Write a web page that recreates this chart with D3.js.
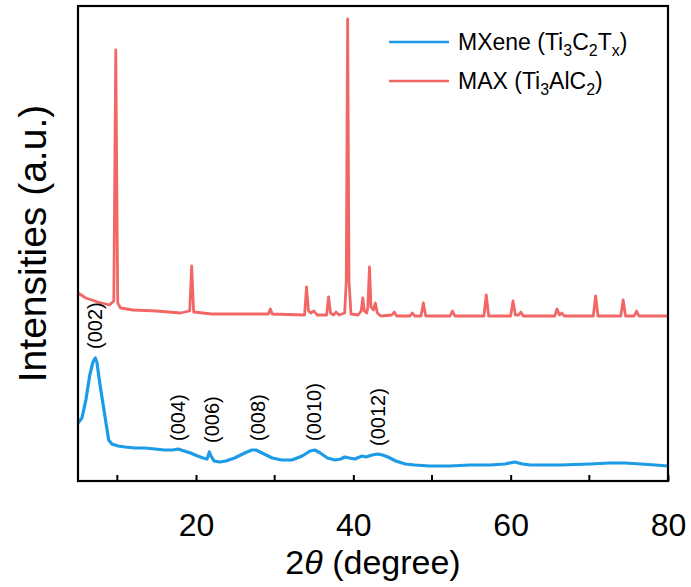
<!DOCTYPE html>
<html>
<head>
<meta charset="utf-8">
<script src="https://cdn.jsdelivr.net/npm/d3@7"></script>
<style>
  html, body { margin: 0; padding: 0; background: #fff; }
  svg { display: block; font-family: "Liberation Sans", Arial, sans-serif; }
</style>
</head>
<body>
<svg id="chart" width="691" height="587"></svg>
<script>
// XRD patterns: 2θ (degree) vs. intensity (a.u., offset for stacking)
const mxeneTheta = [5.0,5.5,6.0,6.5,6.9,7.2,7.4,7.8,8.2,8.6,8.9,9.3,10.1,11.0,12.2,13.5,14.8,16.0,17.0,17.7,18.5,19.3,20.2,20.9,21.4,21.7,21.9,22.3,23.0,23.8,24.9,26.2,27.1,27.6,28.4,29.7,30.9,32.2,33.5,34.5,35.1,35.8,36.7,37.7,38.4,38.9,39.5,40.2,41.1,41.6,42.4,43.1,43.7,44.4,45.4,46.6,47.8,49.7,52.3,54.8,57.4,59.3,60.5,61.5,62.5,66.3,70.1,72.6,74.5,76.5,78.4,80.0];
const mxeneIntensity = [58,63,81,106,119,123,119,96,76,56,41,37,35,34,33,33,32,31,31,32,30,28,25,23,22,29,25,20,19,20,23,28,31,31,28,23,21,21,25,30,31,28,23,21,22,24,23,22,25,24,26,27,26,24,20,17,16,15,15,16,16,17,19,17,16,16,17,18,18,17,16,15];

const maxTheta = [5.0,6.0,7.5,9.0,9.55,9.8,10.05,10.4,12.0,15.0,18.0,19.2,19.45,19.7,22.0,25.0,29.2,29.45,29.7,33.8,34.05,34.3,34.6,35.0,35.4,36.6,36.85,37.1,37.5,37.8,38.2,38.9,39.1,39.28,39.45,39.7,40.6,41.0,41.2,41.4,41.7,41.85,42.05,42.25,42.55,42.8,43.05,43.5,44.9,45.2,45.5,47.2,47.5,47.8,48.6,48.9,49.2,52.3,52.6,52.9,56.6,56.9,57.2,60.0,60.3,60.6,61.0,61.3,61.6,65.6,65.9,66.2,66.5,66.8,70.5,70.8,71.1,74.0,74.3,74.6,75.7,76.0,76.3,80.0];
const maxIntensity = [188,183,179,176,180,431,178,173,171,170,168,170,215,169,167,167,167,172,167,166,194,170,168,170,166,166,184,168,166,169,166,168,200,462,200,167,166,170,183,170,168,174,214,174,171,178,168,165,166,169,165,165,168,165,165,178,165,165,170,165,165,186,165,165,180,166,166,169,165,165,172,166,168,165,165,185,165,165,181,165,165,170,165,165];

// (00l) reflections of the MXene pattern
const hklLabels = ["(002)","(004)","(006)","(008)","(0010)","(0012)"];
const hklTheta  = [7.2, 17.7, 22.0, 27.9, 35.0, 43.1];
const hklLevel  = [123, 31, 29, 31, 31, 26];

const xTicksMajor = [20, 40, 60, 80];
const xTicksMinor = [10, 30, 50, 70];

const seriesColors = ["#1c9be6", "#f26666"];

const svg = d3.select("#chart");
const plot = { left: 78, right: 668, top: 6, bottom: 481 };

const x = d3.scaleLinear().domain([5, 80]).range([plot.left, plot.right]);
const y = d3.scaleLinear().domain([0, 475]).range([plot.bottom, plot.top]);

const line = d3.line().x(d => x(d[0])).y(d => y(d[1]));

const mxene = d3.zip(mxeneTheta, mxeneIntensity);
const maxPhase = d3.zip(maxTheta, maxIntensity);

svg.append("path").datum(maxPhase)
  .attr("d", line).attr("fill", "none")
  .attr("stroke", seriesColors[1]).attr("stroke-width", 2.8)
  .attr("stroke-linejoin", "round");

svg.append("path").datum(mxene)
  .attr("d", line).attr("fill", "none")
  .attr("stroke", seriesColors[0]).attr("stroke-width", 3.2)
  .attr("stroke-linejoin", "round");

// reflection labels, rotated
svg.append("g").selectAll("text").data(hklLabels).join("text")
  .attr("transform", (d, i) => `translate(${x(hklTheta[i])},${y(hklLevel[i]) - 9}) rotate(-90)`)
  .attr("dy", "0.35em")
  .attr("text-anchor", "start")
  .attr("font-size", 20)
  .attr("fill", "#000")
  .text(d => d);

// bottom axis with inward ticks
const xAxis = d3.axisBottom(x).tickValues(xTicksMajor).tickSize(-6).tickPadding(32).tickFormat(d3.format("d"));
const gx = svg.append("g").attr("transform", `translate(0,${plot.bottom})`).call(xAxis);
gx.select(".domain").remove();
gx.selectAll(".tick line").attr("stroke", "#000").attr("stroke-width", 2);
gx.selectAll(".tick text").attr("font-size", 32).attr("fill", "#000")
  .attr("font-family", "'Liberation Sans', Arial, sans-serif");
svg.append("g").attr("transform", `translate(0,${plot.bottom})`)
  .selectAll("line").data(xTicksMinor).join("line")
  .attr("x1", d => x(d)).attr("x2", d => x(d)).attr("y1", 0).attr("y2", -6)
  .attr("stroke", "#000").attr("stroke-width", 2);

// frame
svg.append("rect")
  .attr("x", plot.left).attr("y", plot.top)
  .attr("width", plot.right - plot.left).attr("height", plot.bottom - plot.top)
  .attr("fill", "none").attr("stroke", "#000").attr("stroke-width", 2.2);

// axis titles
const xTitle = svg.append("text")
  .attr("x", (plot.left + plot.right) / 2).attr("y", 574)
  .attr("text-anchor", "middle").attr("font-size", 34).attr("fill", "#000");
xTitle.append("tspan").text("2");
xTitle.append("tspan").attr("font-style", "italic").text("θ");
xTitle.append("tspan").text(" (degree)");

svg.append("text")
  .attr("transform", `translate(46,${(plot.top + plot.bottom) / 2}) rotate(-90)`)
  .attr("text-anchor", "middle").attr("font-size", 39).attr("fill", "#000")
  .text("Intensities (a.u.)");

// legend
const legend = svg.append("g");
const legendRows = [
  [{t: "MXene (Ti"}, {t: "3", sub: true}, {t: "C"}, {t: "2", sub: true}, {t: "T"}, {t: "x", sub: true}, {t: ")"}],
  [{t: "MAX (Ti"}, {t: "3", sub: true}, {t: "AlC"}, {t: "2", sub: true}, {t: ")"}]
];
legendRows.forEach((parts, i) => {
  const yy = 42 + i * 39;
  legend.append("line")
    .attr("x1", 389).attr("x2", 449).attr("y1", yy).attr("y2", yy)
    .attr("stroke", seriesColors[i]).attr("stroke-width", 2.6);
  const txt = legend.append("text")
    .attr("x", 458).attr("y", yy + 8).attr("font-size", 23).attr("fill", "#000");
  parts.forEach((p, k) => {
    const ts = txt.append("tspan").text(p.t);
    if (p.sub) ts.attr("font-size", 16).attr("dy", 6);
    else if (k > 0 && parts[k - 1].sub) ts.attr("dy", -6);
  });
});
</script>
</body>
</html>
